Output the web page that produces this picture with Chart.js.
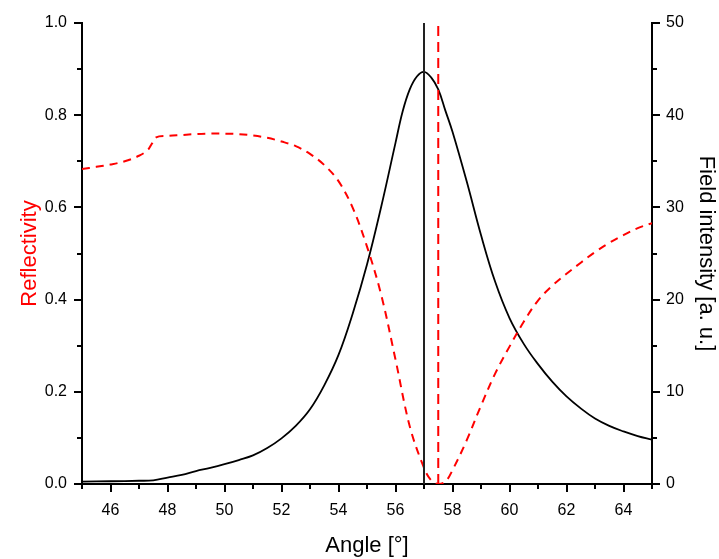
<!DOCTYPE html>
<html>
<head>
<meta charset="utf-8">
<script src="https://cdn.jsdelivr.net/npm/chart.js@4.4.1/dist/chart.umd.min.js"></script>
<style>
  html, body { margin: 0; padding: 0; background: #fff; }
  #wrap { width: 719px; height: 559px; }
</style>
</head>
<body>
<div id="wrap"><canvas id="chart"></canvas></div>
<script>
// field intensity (black, right axis)
const fieldAngles = [45, 46, 47, 47.5, 48, 48.5, 49, 49.5, 50, 50.5, 51, 51.5, 52, 52.5, 53, 53.5, 54, 54.5, 55, 55.5, 56, 56.25, 56.5, 56.75, 57, 57.25, 57.5, 57.75, 58, 58.5, 59, 59.5, 60, 60.5, 61, 61.5, 62, 62.5, 63, 63.5, 64, 64.5, 65];
const fieldValues = [0.25, 0.3, 0.35, 0.4, 0.7, 1.0, 1.4, 1.75, 2.15, 2.6, 3.1, 3.9, 4.95, 6.3, 8.1, 10.7, 14.0, 18.5, 23.8, 30.1, 37.0, 40.4, 42.8, 44.2, 44.7, 44.1, 42.8, 40.5, 38.2, 32.8, 27.0, 21.9, 18.0, 15.2, 13.0, 11.1, 9.5, 8.2, 7.1, 6.3, 5.7, 5.2, 4.8];

// reflectivity (red dashed, left axis)
const reflAngles = [45, 45.5, 46, 46.5, 47, 47.3, 47.45, 47.6, 48, 48.5, 49, 49.5, 50, 50.5, 51, 51.5, 52, 52.5, 53, 53.5, 54, 54.5, 55, 55.5, 56, 56.5, 57, 57.25, 57.5, 57.75, 58, 58.5, 59, 59.5, 60, 60.5, 61, 61.5, 62, 62.5, 63, 63.5, 64, 64.5, 65];
const reflValues = [0.683, 0.688, 0.693, 0.700, 0.712, 0.724, 0.738, 0.752, 0.755, 0.757, 0.759, 0.760, 0.760, 0.759, 0.756, 0.751, 0.743, 0.733, 0.716, 0.692, 0.657, 0.599, 0.515, 0.41, 0.27, 0.125, 0.035, 0.008, 0.0, 0.005, 0.03, 0.095, 0.17, 0.24, 0.298, 0.352, 0.398, 0.43, 0.456, 0.48, 0.503, 0.523, 0.54, 0.555, 0.566];

// marker lines
const fieldPeakAngle = 57;
const reflMinAngle = 57.5;

const xMin = 45, xMax = 65;
const reflMin = 0, reflMax = 1;
const fieldMin = 0, fieldMax = 50;

const FONT = "'Liberation Sans', Arial, sans-serif";

function pts(xs, ys) {
  return xs.map((x, i) => ({ x: x, y: ys[i] }));
}

function isMajor(id, v) {
  if (id === "x") return Math.round(v) % 2 === 0;
  if (id === "y") return Math.round(v * 10) % 2 === 0;
  return Math.round(v) % 10 === 0;
}

// draws major / minor tick marks outside the axes
const tickMarks = {
  id: "tickMarks",
  afterDraw(chart) {
    const ctx = chart.ctx;
    const area = chart.chartArea;
    ctx.save();
    ctx.strokeStyle = "#000";
    ctx.lineWidth = 2;
    ["x", "y", "y1"].forEach((id) => {
      const scale = chart.scales[id];
      scale.ticks.forEach((t) => {
        const len = isMajor(id, t.value) ? 8 : 5;
        const p = Math.round(scale.getPixelForValue(t.value));
        ctx.beginPath();
        if (id === "x") {
          ctx.moveTo(p, area.bottom);
          ctx.lineTo(p, area.bottom + len);
        } else if (id === "y") {
          ctx.moveTo(area.left, p);
          ctx.lineTo(area.left - len, p);
        } else {
          ctx.moveTo(area.right, p);
          ctx.lineTo(area.right + len, p);
        }
        ctx.stroke();
      });
    });
    ctx.restore();
  },
};

const tickFont = { family: FONT, size: 16 };
const titleFont = { family: FONT, size: 22 };

new Chart(document.getElementById("chart"), {
  type: "line",
  data: {
    datasets: [
      {
        label: "Field intensity",
        data: pts(fieldAngles, fieldValues),
        yAxisID: "y1",
        borderColor: "#000",
        borderWidth: 1.8,
        pointRadius: 0,
        tension: 0.4,
        order: 3,
      },
      {
        label: "Reflectivity",
        data: pts(reflAngles, reflValues),
        yAxisID: "y",
        borderColor: "#ff0000",
        borderWidth: 2,
        borderDash: [8, 6],
        pointRadius: 0,
        tension: 0.35,
        order: 2,
      },
      {
        label: "peak",
        data: pts([fieldPeakAngle, fieldPeakAngle], [reflMin, reflMax]),
        yAxisID: "y",
        borderColor: "#222",
        borderWidth: 2,
        pointRadius: 0,
        order: 1,
      },
      {
        label: "minimum",
        data: pts([reflMinAngle, reflMinAngle], [reflMin, reflMax]),
        yAxisID: "y",
        borderColor: "#ff0000",
        borderWidth: 2,
        borderDash: [10, 6],
        pointRadius: 0,
        order: 0,
      },
    ],
  },
  options: {
    responsive: true,
    maintainAspectRatio: false,
    animation: false,
    events: [],
    layout: { padding: { top: 23, right: 0, bottom: 0, left: 0 } },
    plugins: {
      legend: { display: false },
      tooltip: { enabled: false },
    },
    scales: {
      x: {
        type: "linear",
        min: xMin,
        max: xMax,
        afterFit: (s) => { s.height = 75; },
        border: { display: true, color: "#000", width: 2 },
        grid: { drawOnChartArea: false, drawTicks: true, tickLength: 8, tickColor: "transparent" },
        ticks: {
          stepSize: 1,
          padding: 9,
          color: "#000",
          font: tickFont,
          maxRotation: 0,
          autoSkip: false,
          callback: (v) => (Math.round(v) % 2 === 0 && v > xMin && v < xMax ? String(v) : ""),
        },
        title: {
          display: true,
          text: "Angle [°]",
          color: "#000",
          font: titleFont,
          padding: { top: 0, bottom: 0 },
        },
      },
      y: {
        type: "linear",
        position: "left",
        min: reflMin,
        max: reflMax,
        afterFit: (s) => { s.width = 82; },
        border: { display: true, color: "#000", width: 2 },
        grid: { drawOnChartArea: false, drawTicks: true, tickLength: 8, tickColor: "transparent" },
        ticks: {
          stepSize: 0.1,
          padding: 7,
          color: "#000",
          font: tickFont,
          autoSkip: false,
          callback: (v) => (Math.round(v * 10) % 2 === 0 ? v.toFixed(1) : ""),
        },
        title: {
          display: true,
          text: "Reflectivity",
          color: "#ff0000",
          font: titleFont,
          padding: { top: 17, bottom: 0 },
        },
      },
      y1: {
        type: "linear",
        position: "right",
        min: fieldMin,
        max: fieldMax,
        afterFit: (s) => { s.width = 67; },
        border: { display: true, color: "#000", width: 2 },
        grid: { drawOnChartArea: false, drawTicks: true, tickLength: 8, tickColor: "transparent" },
        ticks: {
          stepSize: 5,
          padding: 6,
          color: "#000",
          font: tickFont,
          autoSkip: false,
          callback: (v) => (Math.round(v) % 10 === 0 ? String(v) : ""),
        },
        title: {
          display: true,
          text: "Field intensity [a. u.]",
          color: "#000",
          font: titleFont,
          padding: { top: 0, bottom: 0 },
        },
      },
    },
  },
  plugins: [tickMarks],
});
</script>
</body>
</html>
